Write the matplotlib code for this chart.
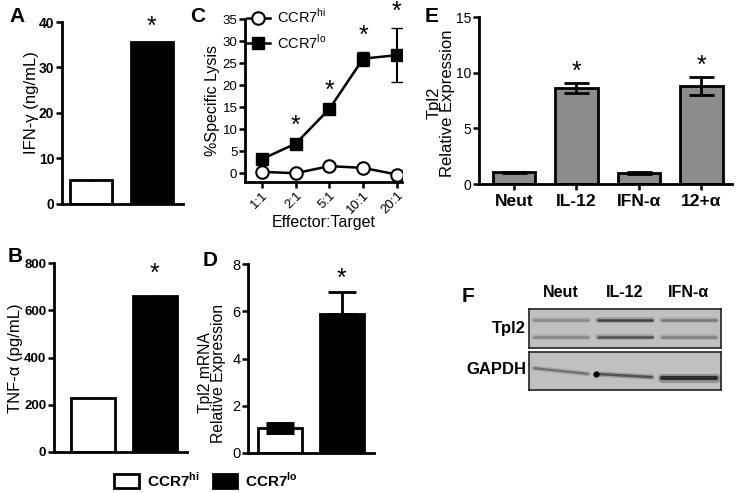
import matplotlib
matplotlib.use("Agg")
import matplotlib.pyplot as plt
from matplotlib.patches import Patch
from matplotlib.lines import Line2D
import numpy as np

plt.rcParams['font.family'] = ['Liberation Sans', 'DejaVu Sans']
plt.rcParams['mathtext.fontset'] = 'custom'
plt.rcParams['mathtext.rm'] = 'Liberation Sans'
plt.rcParams['mathtext.bf'] = 'Liberation Sans:bold'

W, H = 737, 493

# --- data -------------------------------------------------------------
groups = ['CCR7hi', 'CCR7lo']

ifng = [5.2, 35.5]          # A, ng/mL
ifng_err = [0.2, 0.2]

tnfa = [228, 660]           # B, pg/mL
tnfa_err = [3, 4]

et_ratios = ['1:1', '2:1', '5:1', '10:1', '20:1']   # C
lysis_hi = [0.3, 0.0, 1.6, 1.2, -0.3]
lysis_hi_err = [0.3, 0.3, 0.3, 0.3, 0.3]
lysis_lo = [3.2, 6.7, 14.6, 26.0, 26.8]
lysis_lo_err = [0.4, 0.4, 0.5, 1.6, 6.2]
lysis_sig = [False, True, True, True, True]

tpl2_mrna = [1.05, 5.9]     # D
tpl2_mrna_err = [0.12, 0.9]

treatments = ['Neut', 'IL-12', 'IFN-α', '12+α']     # E
tpl2_rel = [1.05, 8.6, 1.0, 8.8]
tpl2_rel_err = [0.05, 0.45, 0.08, 0.85]
tpl2_sig = [False, True, False, True]

blot_lanes = ['Neut', 'IL-12', 'IFN-α']             # F, band darkness 0-1
tpl2_upper = [0.35, 0.8, 0.45]
tpl2_lower = [0.35, 0.7, 0.4]
gapdh_band = [0.5, 0.7, 0.95]


def px_axes(fig, left, top, right, bottom):
    return fig.add_axes([left / W, 1 - bottom / H, (right - left) / W, (bottom - top) / H])


def style(ax, size=10, bold=False):
    for s in ['top', 'right']:
        ax.spines[s].set_visible(False)
    for s in ['left', 'bottom']:
        ax.spines[s].set_linewidth(2)
    ax.tick_params(axis='both', direction='out', length=4.5, width=1.8, labelsize=size, pad=1)
    if bold:
        for t in ax.get_yticklabels():
            t.set_fontweight('bold')


def star(ax, x, y):
    ax.text(x, y, '*', ha='center', va='center', fontsize=18, clip_on=False)


fig = plt.figure(figsize=(W / 100, H / 100), dpi=100)

# --- A ------------------------------------------------------------------
ax = px_axes(fig, 62, 22, 183, 204)
ax.bar([0, 1], ifng, yerr=ifng_err, width=0.69, color=['white', 'black'],
       edgecolor='black', linewidth=2, capsize=0, error_kw=dict(lw=2))
ax.set_xlim(-0.475, 1.51)
ax.set_ylim(0, 40)
ax.set_yticks([0, 10, 20, 30, 40])
ax.set_xticks([])
style(ax, 10, bold=True)
star(ax, 1, 39)
fig.text(32 / W, 1 - 103 / H, 'IFN-γ (ng/mL)', rotation=90, ha='center', va='center', fontsize=12)
fig.text(9 / W, 1 - 16 / H, 'A', fontsize=15, fontweight='bold', va='center')

# --- B ------------------------------------------------------------------
ax = px_axes(fig, 54, 263, 187, 452)
ax.bar([0, 1], tnfa, yerr=tnfa_err, width=0.71, color=['white', 'black'],
       edgecolor='black', linewidth=2, capsize=0, error_kw=dict(lw=2))
ax.set_xlim(-0.63, 1.52)
ax.set_ylim(0, 800)
ax.set_yticks([0, 200, 400, 600, 800])
ax.set_xticks([])
style(ax, 9.5, bold=True)
star(ax, 1, 755)
fig.text(16 / W, 1 - 358 / H, 'TNF-α (pg/mL)', rotation=90, ha='center', va='center', fontsize=12)
fig.text(8 / W, 1 - 256 / H, 'B', fontsize=15, fontweight='bold', va='center')

# --- C ------------------------------------------------------------------
ax = px_axes(fig, 245, 19, 402, 182)
x = np.arange(len(et_ratios))
ax.errorbar(x, lysis_hi, yerr=lysis_hi_err, color='black', lw=1.8, marker='o', ms=9,
            mfc='white', mec='black', mew=1.5, capsize=3, zorder=3)
ax.errorbar(x, lysis_lo, yerr=lysis_lo_err, color='black', lw=1.8, marker='s', ms=8.5,
            mfc='black', mec='black', capsize=4, elinewidth=1.5, zorder=3)
for xi, yi, ei, s in zip(x, lysis_lo, lysis_lo_err, lysis_sig):
    if s:
        star(ax, xi, yi + ei + 3.6)
ax.set_xlim(-0.5, 4.15)
ax.set_ylim(-2, 35)
ax.set_yticks(range(0, 36, 5))
ax.set_xticks(x)
ax.set_xticklabels(et_ratios, rotation=45, ha='right', rotation_mode='anchor')
style(ax, 9.5)
ax.set_xlabel('Effector:Target', fontsize=11.5, labelpad=-1)
c_handles = [Line2D([], [], color='black', lw=1.8, marker='o', ms=9, mfc='white', mew=1.5),
             Line2D([], [], color='black', lw=1.8, marker='s', ms=8.5, mfc='black')]
ax.legend(c_handles, ['CCR7$^{\\rm hi}$', 'CCR7$^{\\rm lo}$'], loc='upper left',
          bbox_to_anchor=(0.01, 1.07), frameon=False, fontsize=10.5,
          handlelength=1.6, handletextpad=0.5, labelspacing=0.45, borderaxespad=0, borderpad=0)
fig.text(213 / W, 1 - 100 / H, '%Specific Lysis', rotation=90, ha='center', va='center', fontsize=11.5)
fig.text(190 / W, 1 - 16 / H, 'C', fontsize=15, fontweight='bold', va='center')

# --- D ------------------------------------------------------------------
ax = px_axes(fig, 248, 264, 374, 453)
ax.bar([0, 1], tpl2_mrna, width=0.71, color=['white', 'black'], edgecolor='black', linewidth=2)
ax.errorbar([0], tpl2_mrna[:1], yerr=tpl2_mrna_err[:1], fmt='none', ecolor='black',
            elinewidth=2, capsize=10, capthick=5)
ax.errorbar([1], tpl2_mrna[1:], yerr=[[0], tpl2_mrna_err[1:]], fmt='none', ecolor='black',
            elinewidth=2, capsize=10, capthick=2)
ax.set_xlim(-0.52, 1.52)
ax.set_ylim(0, 8)
ax.set_yticks([0, 2, 4, 6, 8])
ax.set_xticks([])
style(ax, 10.5)
star(ax, 1, 7.35)
fig.text(212 / W, 1 - 373 / H, 'Tpl2 mRNA\nRelative Expression', rotation=90, ha='center',
         va='center', fontsize=11.3, linespacing=0.9)
fig.text(203 / W, 1 - 261 / H, 'D', fontsize=15, fontweight='bold', va='center')

# legend for A, B, D
handles = [Patch(facecolor='white', edgecolor='black', linewidth=2),
           Patch(facecolor='black', edgecolor='black', linewidth=2)]
fig.legend(handles, ['CCR7$^{\\mathbf{hi}}$', 'CCR7$^{\\mathbf{lo}}$'], loc='center',
           bbox_to_anchor=(206 / W, 1 - 480 / H), ncol=2, frameon=False,
           prop=dict(weight='bold', size=11), handlelength=1.6, handleheight=1.05,
           handletextpad=0.5, columnspacing=0.9)

# --- E ------------------------------------------------------------------
ax = px_axes(fig, 479, 17, 732, 184)
xe = np.arange(len(treatments))
ax.bar(xe, tpl2_rel, yerr=tpl2_rel_err, width=0.68, color='#8c8c8c', edgecolor='black',
       linewidth=2, capsize=9, error_kw=dict(lw=2, capthick=2))
for xi, yi, ei, s in zip(xe, tpl2_rel, tpl2_rel_err, tpl2_sig):
    if s:
        star(ax, xi, yi + ei + 1.0)
ax.set_xlim(-0.56, 3.49)
ax.set_ylim(0, 15)
ax.set_yticks([0, 5, 10, 15])
ax.set_xticks(xe)
ax.set_xticklabels(treatments)
style(ax, 10)
ax.tick_params(axis='x', labelsize=12.5, pad=3)
for t in ax.get_xticklabels():
    t.set_fontweight('bold')
fig.text(441 / W, 1 - 103 / H, 'Tpl2\nRelative Expression', rotation=90, ha='center',
         va='center', fontsize=12, linespacing=0.85)
fig.text(425 / W, 1 - 17 / H, 'E', fontsize=15, fontweight='bold', va='center')

# --- F (western blot) ---------------------------------------------------
blot_bg = '#c0c0c0'
ax_t = px_axes(fig, 529, 309, 721, 348)
ax_g = px_axes(fig, 529, 352, 721, 390)
for a in (ax_t, ax_g):
    a.set_facecolor(blot_bg)
    a.set_xlim(0, 3)
    a.set_ylim(0, 1)
    a.set_xticks([])
    a.set_yticks([])
    for s in a.spines.values():
        s.set_linewidth(1.2)
        s.set_color('#222222')


def band(a, lane, y, dark, lw, slope=0.0):
    xs = [lane + 0.08, lane + 0.92]
    ys = [y + slope / 2, y - slope / 2]
    g = 0.74 - 0.6 * dark
    a.plot(xs, ys, color=(g, g, g), lw=lw * 2.2, alpha=0.3, solid_capstyle='round')
    a.plot(xs, ys, color=(g, g, g), lw=lw, solid_capstyle='round')


for i, (u, l_) in enumerate(zip(tpl2_upper, tpl2_lower)):
    band(ax_t, i, 0.72, u, 1.8)
    band(ax_t, i, 0.28, l_, 1.8)
band(ax_g, 0, 0.5, gapdh_band[0], 1.6, slope=0.15)
band(ax_g, 1, 0.38, gapdh_band[1], 1.8, slope=0.08)
band(ax_g, 2, 0.32, gapdh_band[2], 3.0)
ax_g.plot([1.05], [0.42], 'o', color='black', ms=3.5)

for i, name in enumerate(blot_lanes):
    ax_t.text(i + 0.5, 1.22, name, ha='center', va='bottom',
              fontsize=11.5, fontweight='bold', clip_on=False)
fig.text(526 / W, 1 - 328 / H, 'Tpl2', ha='right', va='center', fontsize=12, fontweight='bold')
fig.text(526 / W, 1 - 370 / H, 'GAPDH', ha='right', va='center', fontsize=12, fontweight='bold')
fig.text(462 / W, 1 - 297 / H, 'F', fontsize=15, fontweight='bold', va='center')

fig.savefig('out.png', dpi=100)
